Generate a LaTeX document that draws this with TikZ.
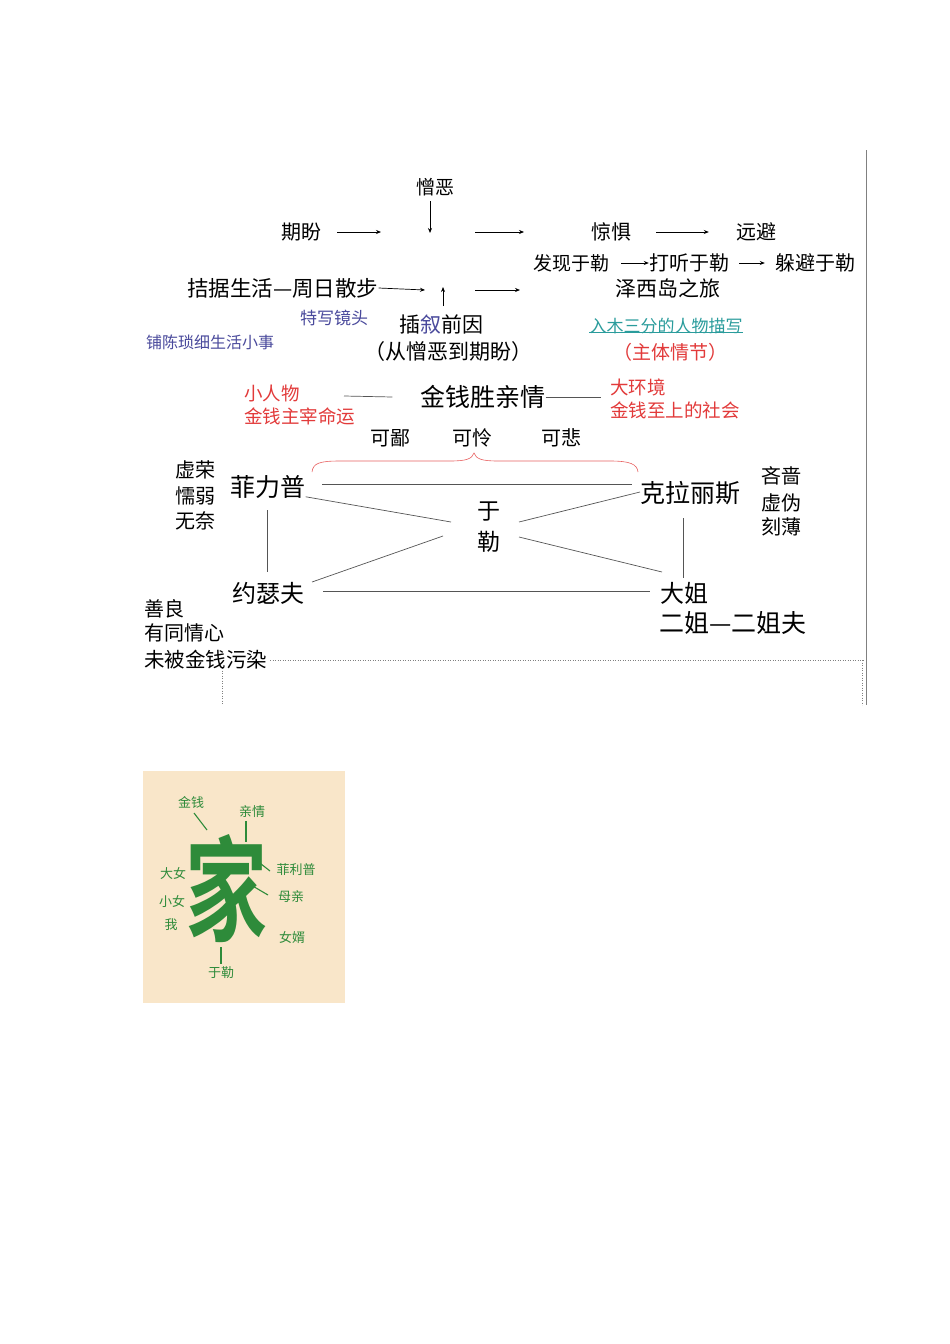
\documentclass[tikz,border=0pt]{standalone}
\usepackage{fontspec}
\setmainfont{Noto Sans CJK SC}
\newfontfamily\cjk{Noto Sans CJK SC}
\newfontfamily\cjkb{Noto Sans CJK SC Bold}
\usetikzlibrary{arrows.meta}
\definecolor{myred}{HTML}{E23A3A}
\definecolor{myblue}{HTML}{4A4A9C}
\definecolor{myteal}{HTML}{2A9C9C}
\definecolor{mygreen}{HTML}{2E8B3A}
\definecolor{mybeige}{HTML}{F9E6C9}
\definecolor{mygray}{HTML}{555555}
\tikzset{
  t/.style={inner sep=0pt,font=\cjk\fontsize{#1}{#1}\selectfont,text=black},
  t/.default=20,
  arr/.style={-{Stealth[length=5pt,width=4pt]},line width=0.7pt},
  ln/.style={line width=0.7pt,draw=mygray},
  gl/.style={inner sep=0pt,font=\cjk\fontsize{13}{13}\selectfont,text=mygreen},
  gln/.style={draw=mygreen,line width=1.1pt},
}
\begin{document}
\begin{tikzpicture}[x=1pt,y=-1pt]
\useasboundingbox (0,0) rectangle (950,1344);
\fill[white] (0,0) rectangle (950,1344);
% border lines
\draw[gray,line width=0.6pt] (866,150) -- (866,705);
\draw[gray,dotted,line width=0.5pt] (270,660) -- (864,660);
\draw[gray,dotted,line width=0.5pt] (222,668) -- (222,705);
\draw[gray,dotted,line width=0.5pt] (862,660) -- (862,705);

% top flow
\node[t=19] (zw) at (435,187) {憎恶};
\coordinate (zwend) at (430,233);
\draw[arr] (430,201) -- (zwend);
\node[t=20] (qp) at (301,232) {期盼};
\coordinate (a1s) at (337,232); \coordinate (a1e) at (381,232);
\draw[arr] (a1s) -- (a1e);
\coordinate (a2s) at (475,232); \coordinate (a2e) at (524,232);
\draw[arr] (a2s) -- (a2e);
\node[t=20] (jj) at (611,232) {惊惧};
\node[t=20] (yb) at (756,232) {远避};
\draw[arr] ([xshift=25pt]jj.east) -- ([xshift=-27pt]yb.west);

\node[t=19] (fx) at (571,263) {发现于勒};
\node[t=20] (dt) at (689,263) {打听于勒};
\node[t=20] (db) at (815,263) {躲避于勒};
\draw[arr] ([xshift=12pt]fx.east) -- (dt.west);
\draw[arr] ([xshift=10pt]dt.east) -- ([xshift=-10pt]db.west);

\node[t=21.5,anchor=west] (jjsh) at (187,288) {拮据生活—周日散步};
\coordinate (a3e) at (425,290);
\draw[arr] (jjsh.east) -- (a3e);
\coordinate (a4s) at (443,306); \coordinate (a4e) at (443,287);
\draw[arr] (a4s) -- (a4e);
\coordinate (a5s) at (475,290); \coordinate (a5e) at (520,290);
\draw[arr] (a5s) -- (a5e);
\node[t=21] (zx) at (668,288) {泽西岛之旅};

\node[t=17,text=myblue] (tx) at (334,318) {特写镜头};
\node[t=21] (cx) at (441,325) {插{\color{myblue}叙}前因};
\node[t=21] (cz) at (448,352) {（从憎恶到期盼）};
\node[t=16,text=myblue] (pc) at (210,342) {铺陈琐细生活小事};
\node[t=17,text=myteal] (rm) at (666,326) {入木三分的人物描写};
\draw[myteal,line width=0.6pt] ([yshift=2pt]rm.south west) -- ([yshift=2pt]rm.south east);
\node[t=19,text=myred] (zt) at (670,352) {（主体情节）};

% middle
\node[t=18.5,text=myred,anchor=west] (xrw) at (244,393) {小人物};
\node[t=18.5,text=myred,anchor=west] (jqzz) at (244,416) {金钱主宰命运};
\node[t=25] (jsq) at (483,397) {金钱胜亲情};
\node[t=18.5,text=myred,anchor=west] (dhj) at (610,387) {大环境};
\node[t=18.5,text=myred,anchor=west] (jqzs) at (610,410) {金钱至上的社会};
\coordinate (l1s) at (344,396);
\draw[ln] (l1s) -- ([xshift=-28pt]jsq.west);
\draw[ln] (jsq.east) -- ([xshift=55pt]jsq.east);

\node[t=20] (kb) at (390,438) {可鄙};
\node[t=20] (kl) at (472,438) {可怜};
\node[t=20] (kbei) at (561,438) {可悲};
\draw[myred!80,line width=0.6pt] (312,472) .. controls (313,463) and (320,461) .. (340,461)
  -- (450,461) .. controls (466,461) and (472,459) .. (474,453)
  .. controls (476,459) and (482,461) .. (498,461)
  -- (610,461) .. controls (630,461) and (637,464) .. (638,472);

\node[t=25] (flp) at (268,487) {菲力普};
\node[t=20] (xr) at (195,470) {虚荣};
\node[t=20] (nr) at (195,496) {懦弱};
\node[t=20] (wn) at (195,521) {无奈};
\node[t=25] (klls) at (690,493) {克拉丽斯};
\node[t=20] (ls) at (781,476) {吝啬};
\node[t=20] (xw) at (781,503) {虚伪};
\node[t=20] (kbo) at (781,527) {刻薄};
\node[t=23] (yu) at (489,512) {于};
\node[t=23] (le) at (489,542) {勒};
\node[t=24] (ysf) at (268,593) {约瑟夫};
\node[t=24] (dj) at (684,593) {大姐};
\node[t=25,anchor=west] (ej) at (659,623) {二姐—二姐夫};
\node[t=20,anchor=west] (sl) at (144,609) {善良};
\node[t=20,anchor=west] (ytq) at (144,633) {有同情心};
\node[t=20.5,anchor=west] (wbj) at (144,660) {未被金钱污染};

\draw[ln] (322,484) -- (632,484);
\draw[ln] (flp.south east) ++(0,-2) -- (451,522);
\draw[ln] (519,522) -- (640,492);
\draw[ln] (443,536) -- (312,582);
\draw[ln] (519,537) -- (662,572);
\draw[ln] (267,510) -- (267,572);
\draw[ln] (683,518) -- (683,578);
\draw[ln] (323,591) -- (650,591);

% bottom image
\fill[mybeige] (143,771) rectangle (345,1003);
\node[inner sep=0pt,font=\cjkb\fontsize{114}{114}\selectfont,text=mygreen,xscale=0.72] (jia) at (227,889) {家};
\node[gl] (g1) at (191,802) {金钱};
\node[gl] (g2) at (252,812) {亲情};
\node[gl] (g3) at (296,870) {菲利普};
\node[gl] (g4) at (291,897) {母亲};
\node[gl] (g5) at (292,937) {女婿};
\node[gl] (g6) at (173,873) {大女};
\node[gl] (g7) at (172,901) {小女};
\node[gl] (g8) at (171,925) {我};
\node[gl] (g9) at (221,973) {于勒};
\draw[gln] (194,813) -- (207,830);
\draw[gln] (246,821) -- (246,842);
\draw[gln] (256,860) -- (270,871);
\draw[gln] (251,885) -- (268,895);
\draw[gln] (221,947) -- (221,964);
\end{tikzpicture}
\end{document}
